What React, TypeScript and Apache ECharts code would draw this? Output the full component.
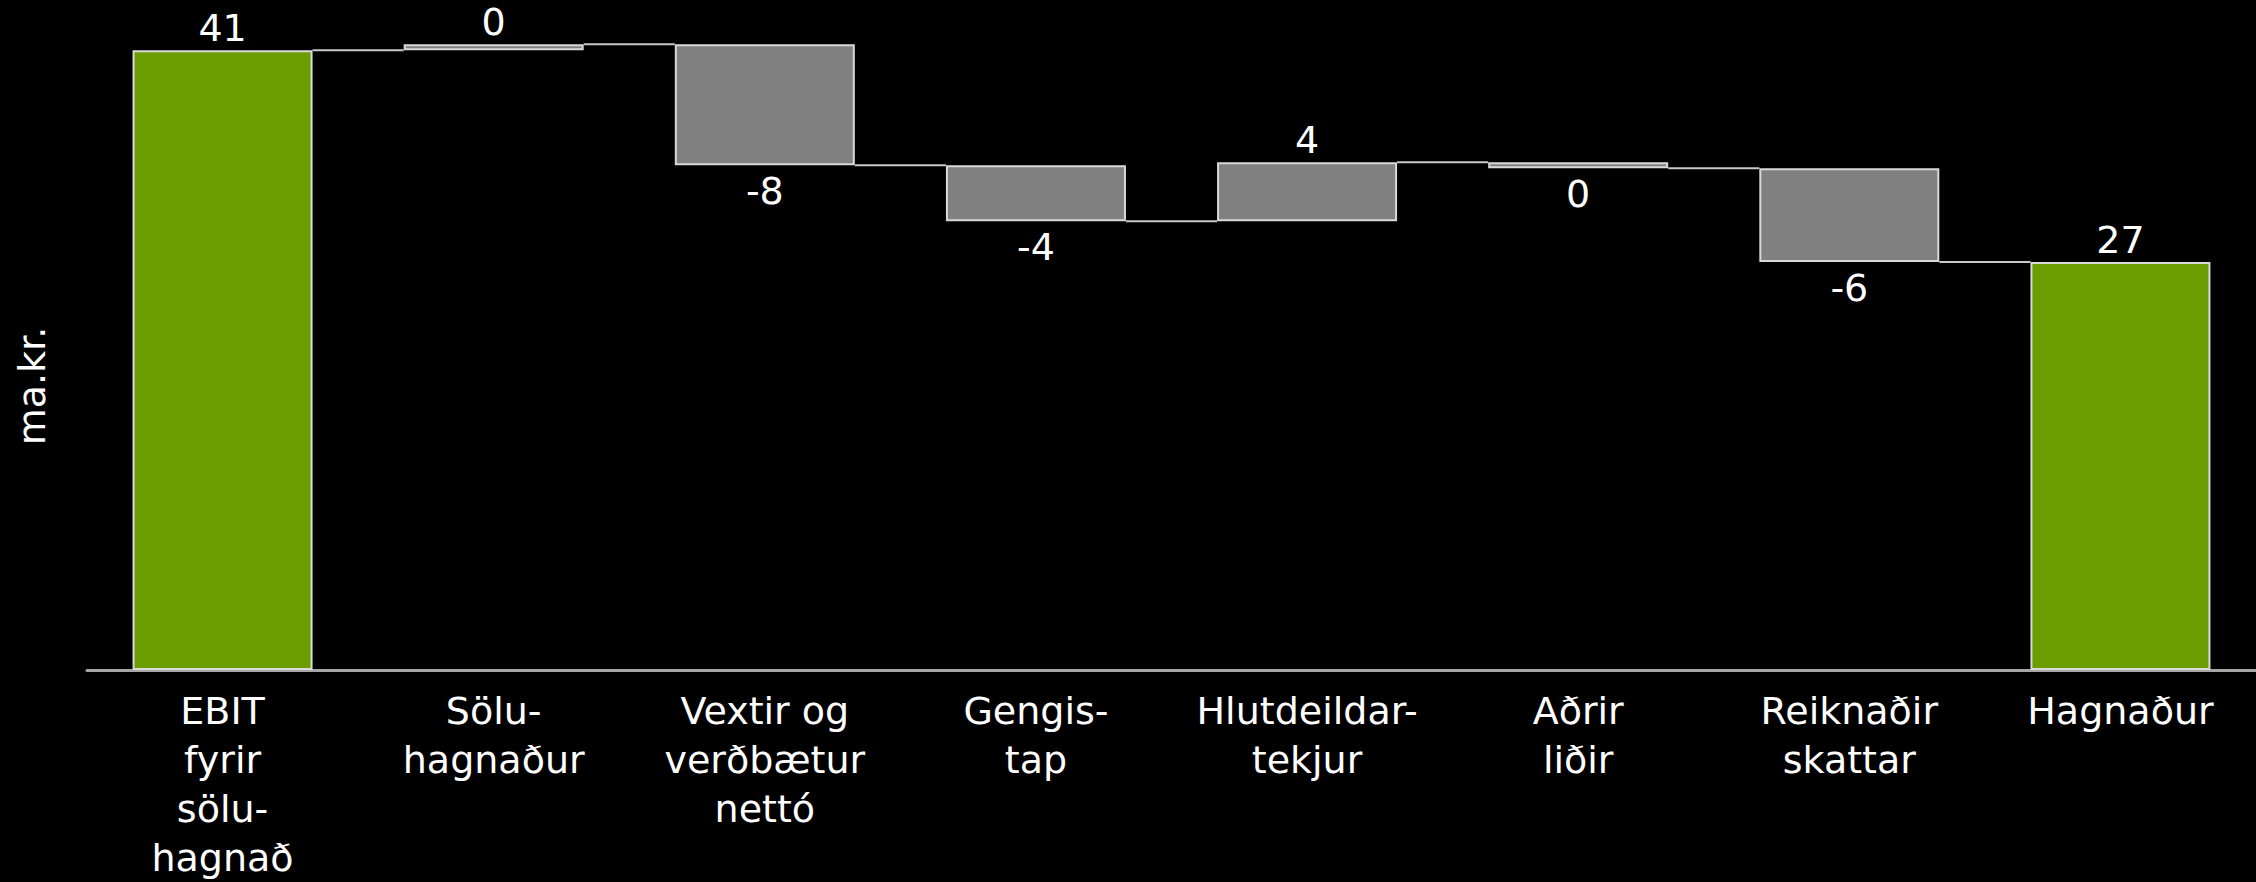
import React, { useEffect, useRef } from "react";
import * as echarts from "echarts";

const categories = [
  "EBIT\nfyrir\nsölu-\nhagnað",
  "Sölu-\nhagnaður",
  "Vextir og\nverðbætur\nnettó",
  "Gengis-\ntap",
  "Hlutdeildar-\ntekjur",
  "Aðrir\nliðir",
  "Reiknaðir\nskattar",
  "Hagnaður",
];
const values = [41, 0.4, -8.0, -3.7, 3.9, -0.4, -6.2, 27];
const isTotal = [true, false, false, false, false, false, false, true];
const yAxisName = "ma.kr.";

const GREEN = "#6b9c00";
const GRAY = "#808080";
const FONT = "DejaVu Sans";
const BAR_W = 180;

export default function App() {
  const ref = useRef<HTMLDivElement>(null);

  useEffect(() => {
    if (!ref.current) return;
    const chart = echarts.init(ref.current, null, { renderer: "svg" });

    const base: number[] = [];
    const visible: any[] = [];
    const levels: number[][] = [];
    let running = 0;
    values.forEach((v, i) => {
      let b: number;
      let h: number;
      if (isTotal[i]) {
        b = 0;
        h = v;
        running = v;
      } else {
        const start = running;
        const end = running + v;
        b = Math.min(start, end);
        h = Math.abs(v);
        running = end;
      }
      base.push(b);
      const up = isTotal[i] || v >= 0;
      const r = Math.round(v);
      visible.push({
        value: h,
        itemStyle: { color: isTotal[i] ? GREEN : GRAY },
        label: {
          show: true,
          position: up ? "top" : "bottom",
          distance: up ? 3 : 7,
          formatter: String(r === 0 ? 0 : r),
        },
      });
      if (i < values.length - 1) levels.push([i, running]);
    });

    chart.setOption({
      animation: false,
      backgroundColor: "#000000",
      grid: { left: 87, right: 0, top: 5, bottom: 207 },
      xAxis: {
        type: "category",
        data: categories,
        axisLine: { show: true, lineStyle: { color: "#a6a6a6", width: 3 } },
        axisTick: { show: false },
        axisLabel: {
          interval: 0,
          color: "#ffffff",
          fontSize: 38,
          lineHeight: 49,
          fontFamily: FONT,
          margin: 16,
        },
      },
      yAxis: {
        type: "value",
        min: 0,
        max: 44,
        show: false,
        splitLine: { show: false },
      },
      graphic: [
        {
          type: "text",
          x: 32,
          y: 386,
          rotation: Math.PI / 2,
          style: {
            text: yAxisName,
            fill: "#ffffff",
            fontSize: 38,
            fontFamily: FONT,
            align: "center",
            verticalAlign: "middle",
          },
        },
      ],
      series: [
        {
          type: "bar",
          stack: "wf",
          data: base,
          barWidth: BAR_W,
          itemStyle: { color: "transparent" },
          silent: true,
        },
        {
          type: "bar",
          stack: "wf",
          data: visible,
          barWidth: BAR_W,
          itemStyle: { borderColor: "#d9d9d9", borderWidth: 2 },
          label: {
            color: "#ffffff",
            fontSize: 38,
            fontFamily: FONT,
          },
        },
        {
          type: "custom",
          data: levels,
          encode: { x: 0, y: 1 },
          z: 1,
          renderItem: (params: any, api: any) => {
            const i = api.value(0);
            const lvl = api.value(1);
            const p1 = api.coord([i, lvl]);
            const p2 = api.coord([i + 1, lvl]);
            const half = BAR_W / 2;
            return {
              type: "line",
              shape: { x1: p1[0] + half, y1: p1[1], x2: p2[0] - half, y2: p2[1] },
              style: { stroke: "#c8c8c8", lineWidth: 2 },
            };
          },
        },
      ],
    });

    return () => chart.dispose();
  }, []);

  return (
    <div
      ref={ref}
      style={{ position: "fixed", left: 0, top: 0, width: 2256, height: 882 }}
    />
  );
}
